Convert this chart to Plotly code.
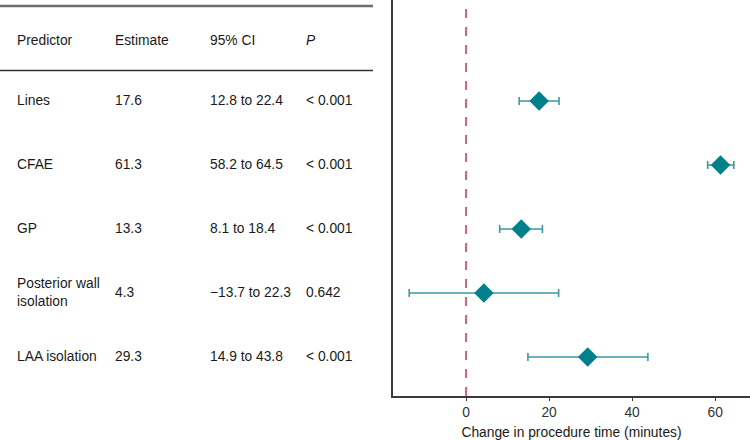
import plotly.graph_objects as go

predictors = ["Lines", "CFAE", "GP", "Posterior wall<br>isolation", "LAA isolation"]
estimates = [17.6, 61.3, 13.3, 4.3, 29.3]
ci_low = [12.8, 58.2, 8.1, -13.7, 14.9]
ci_high = [22.4, 64.5, 18.4, 22.3, 43.8]
p_values = ["< 0.001", "< 0.001", "< 0.001", "0.642", "< 0.001"]
headers = ["Predictor", "Estimate", "95% CI", "<i>P</i>"]
x_ticks = [0, 20, 40, 60]
x_title = "Change in procedure time (minutes)"

rows = list(range(1, len(predictors) + 1))

FONT = "Liberation Sans, Arial, Helvetica, sans-serif"
FS = 13.8
TXT = "#1a1a1a"
MARK = "#00808a"
BAR = "#3c989e"

fig = go.Figure()
fig.add_trace(go.Scatter(
    x=estimates, y=rows, mode="markers",
    marker=dict(symbol="diamond", size=15, color=MARK, line=dict(width=0)),
    error_x=dict(type="data", symmetric=False,
                 array=[h - e for h, e in zip(ci_high, estimates)],
                 arrayminus=[e - l for e, l in zip(estimates, ci_low)],
                 color=BAR, thickness=1.6, width=4),
    showlegend=False, hoverinfo="skip",
))

col_x = [15, 113, 208, 304]
W = 750.0
for cx, h in zip(col_x, headers):
    fig.add_annotation(x=cx / W, y=0.05, xref="paper", yref="y", text=h,
                       showarrow=False, xanchor="left", yanchor="middle",
                       font=dict(family=FONT, size=FS, color=TXT))
for r, name, est, lo, hi, p in zip(rows, predictors, estimates, ci_low, ci_high, p_values):
    lo_s = f"{lo:.1f}".replace("-", "\u2212")
    cells = [name, f"{est:.1f}", f"{lo_s} to {hi:.1f}", p]
    for cx, t in zip(col_x, cells):
        fig.add_annotation(x=cx / W, y=r, xref="paper", yref="y", text=t,
                           showarrow=False, xanchor="left", yanchor="middle",
                           align="left",
                           font=dict(family=FONT, size=FS, color=TXT))

# table rules
fig.add_shape(type="line", xref="paper", yref="y", x0=0, x1=373 / W, y0=-0.484, y1=-0.484,
              line=dict(color="#6e6e6e", width=2.5))
fig.add_shape(type="line", xref="paper", yref="y", x0=0, x1=373 / W, y0=0.523, y1=0.523,
              line=dict(color="#333333", width=1.5))
# reference line
fig.add_shape(type="line", xref="x", yref="paper", x0=0, x1=0, y0=0, y1=1,
              line=dict(color="#c8687a", width=2, dash="dash"))

fig.update_layout(
    width=750, height=440,
    margin=dict(l=0, r=0, t=0, b=44),
    paper_bgcolor="white", plot_bgcolor="white",
    font=dict(family=FONT, size=FS, color=TXT),
    xaxis=dict(domain=[393 / W, 1], range=[-17.6, 68.4], tickvals=x_ticks,
               showgrid=False, zeroline=False, showline=True, linecolor="#3a3a3a",
               linewidth=1.5, ticks="outside", ticklen=3, tickcolor="#3a3a3a",
               tickfont=dict(family=FONT, size=FS, color="#333333"),
               title=dict(text=x_title, standoff=8,
                          font=dict(family=FONT, size=FS, color=TXT))),
    yaxis=dict(range=[5.61, -0.578], showgrid=False, zeroline=False, showline=True,
               linecolor="#3a3a3a", linewidth=2, showticklabels=False, ticks=""),
)

fig.write_html("out.html", config={"displayModeBar": False},
               post_script="document.body.style.margin='0';document.body.style.padding='0';")
